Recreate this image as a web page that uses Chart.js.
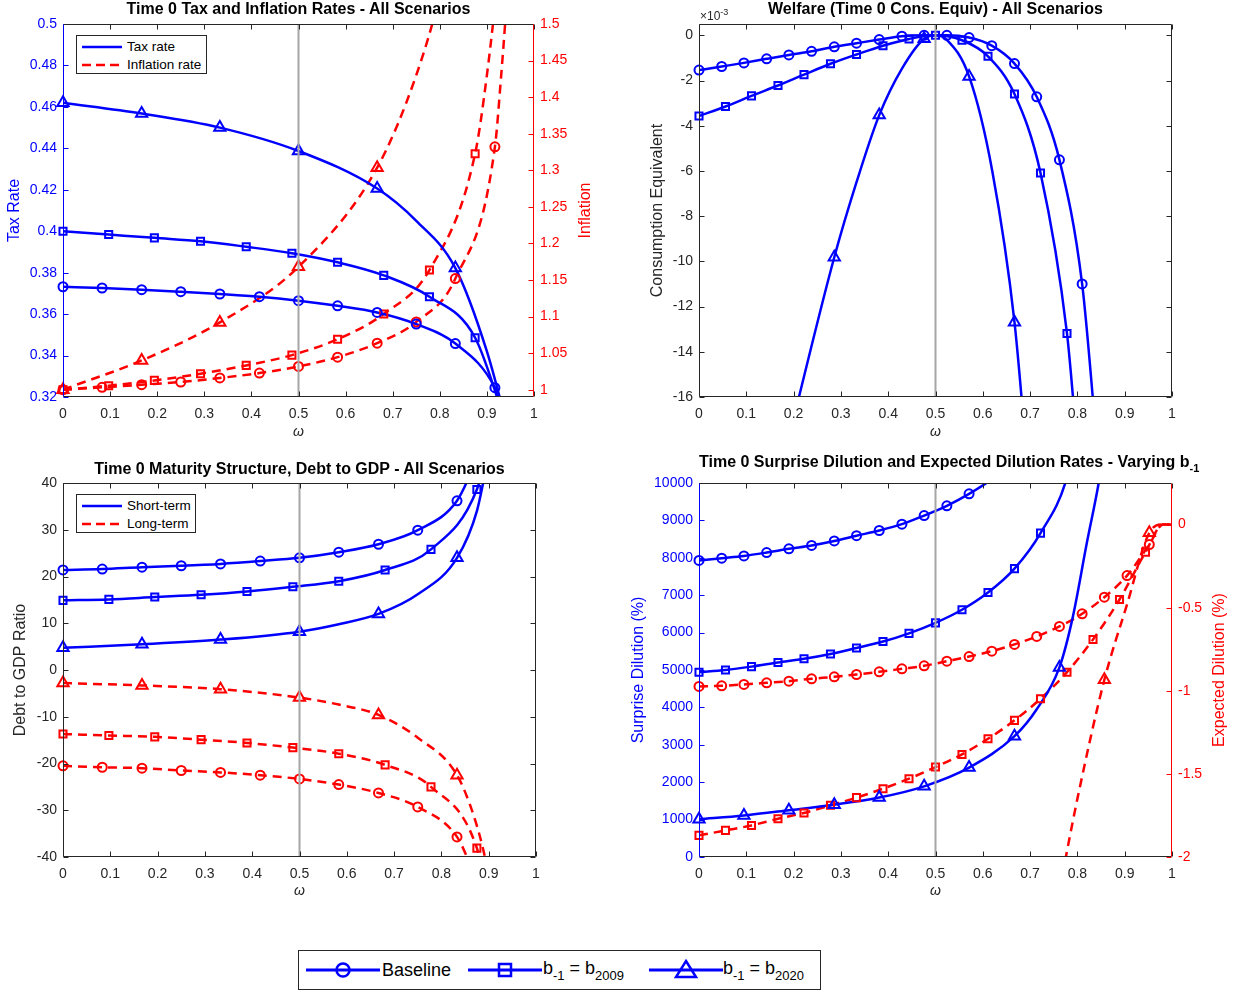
<!DOCTYPE html>
<html lang="en">
<head>
<meta charset="UTF-8">
<title>Time 0 Scenarios - Tax, Welfare, Maturity, Dilution</title>
<script src="https://cdn.jsdelivr.net/npm/chart.js"></script>
<style>
  body { margin: 0; background: #fff; font-family: "Liberation Sans", Arial, Helvetica, sans-serif; }
  #page { position: relative; width: 1240px; height: 990px; overflow: hidden; }
  canvas { position: absolute; }
  .title { position: absolute; font-weight: bold; font-size: 16px; line-height: 18px; color: #000; text-align: center; white-space: nowrap; }
  .title sub { font-size: 11px; vertical-align: -5px; }
  .lg { position: absolute; border: 1px solid #262626; background: #fff; }
  .lg svg, .lg span { position: absolute; }
  .lg span { font-size: 13.5px; line-height: 16px; color: #000; white-space: nowrap; }
  #bottomLegend span { font-size: 18px; line-height: 22px; }
  #bottomLegend sub { font-size: 13px; vertical-align: -6px; }
  .exp { position: absolute; font-size: 12px; color: #262626; }
  .exp sup { font-size: 9px; vertical-align: 5px; }
</style>
</head>
<body>
<div id="page">
  <canvas id="c1" width="620" height="450" style="left:0;top:0"></canvas>
  <canvas id="c2" width="620" height="450" style="left:620px;top:0"></canvas>
  <canvas id="c3" width="620" height="450" style="left:0;top:450px"></canvas>
  <canvas id="c4" width="620" height="450" style="left:620px;top:450px"></canvas>

  <div class="title" style="left:63px;top:0;width:471px">Time 0 Tax and Inflation Rates - All Scenarios</div>
  <div class="title" style="left:699px;top:0;width:473px">Welfare (Time 0 Cons. Equiv) - All Scenarios</div>
  <div class="title" style="left:63px;top:460px;width:473px">Time 0 Maturity Structure, Debt to GDP - All Scenarios</div>
  <div class="title" style="left:699px;top:453px;width:473px">Time 0 Surprise Dilution and Expected Dilution Rates - Varying b<sub>-1</sub></div>

  <div class="exp" style="left:700px;top:7px">×10<sup>-3</sup></div>

  <div class="lg" style="left:76px;top:35px;width:129px;height:37px">
    <svg style="left:4px;top:5px" width="42" height="12"><line x1="1" y1="6" x2="41" y2="6" stroke="#0000ff" stroke-width="2.5"/></svg>
    <span style="left:50px;top:3px">Tax rate</span>
    <svg style="left:4px;top:23px" width="42" height="12"><line x1="1" y1="6" x2="41" y2="6" stroke="#ff0000" stroke-width="2.5" stroke-dasharray="9 5"/></svg>
    <span style="left:50px;top:21px">Inflation rate</span>
  </div>

  <div class="lg" style="left:76px;top:494px;width:118px;height:37px">
    <svg style="left:4px;top:5px" width="42" height="12"><line x1="1" y1="6" x2="41" y2="6" stroke="#0000ff" stroke-width="2.5"/></svg>
    <span style="left:50px;top:3px">Short-term</span>
    <svg style="left:4px;top:23px" width="42" height="12"><line x1="1" y1="6" x2="41" y2="6" stroke="#ff0000" stroke-width="2.5" stroke-dasharray="9 5"/></svg>
    <span style="left:50px;top:21px">Long-term</span>
  </div>

  <div class="lg" id="bottomLegend" style="left:298px;top:950px;width:521px;height:38px">
    <svg style="left:7px;top:7px" width="74" height="24">
      <line x1="0" y1="12" x2="74" y2="12" stroke="#0000ff" stroke-width="3"/>
      <circle cx="37" cy="12" r="6.5" fill="none" stroke="#0000ff" stroke-width="2.5"/>
    </svg>
    <span style="left:83px;top:8px">Baseline</span>
    <svg style="left:169px;top:7px" width="74" height="24">
      <line x1="0" y1="12" x2="74" y2="12" stroke="#0000ff" stroke-width="3"/>
      <rect x="31" y="6" width="12" height="12" fill="none" stroke="#0000ff" stroke-width="2.5"/>
    </svg>
    <span style="left:244px;top:6px">b<sub>-1</sub> = b<sub>2009</sub></span>
    <svg style="left:350px;top:7px" width="74" height="24">
      <line x1="0" y1="12" x2="74" y2="12" stroke="#0000ff" stroke-width="3"/>
      <polygon points="37,3 47,19 27,19" fill="none" stroke="#0000ff" stroke-width="2.5"/>
    </svg>
    <span style="left:424px;top:6px">b<sub>-1</sub> = b<sub>2020</sub></span>
  </div>
</div>

<script>
  // ---- data ----
  const omegaTicks = [0, 0.1, 0.2, 0.3, 0.4, 0.5, 0.6, 0.7, 0.8, 0.9, 1];
  const refOmega = 0.5;

  // marker positions (omega) for each scenario
  const xBase12 = [0, 0.083, 0.167, 0.25, 0.333, 0.417, 0.5, 0.583, 0.667, 0.75, 0.833, 0.917];
  const x2009a = [0, 0.097, 0.194, 0.292, 0.389, 0.486, 0.583, 0.681, 0.778, 0.875];
  const x2020a = [0, 0.167, 0.333, 0.5, 0.667, 0.833];
  const xBase21 = [0, 0.048, 0.095, 0.143, 0.19, 0.238, 0.286, 0.333, 0.381, 0.429, 0.476,
                   0.524, 0.571, 0.619, 0.667, 0.714, 0.762, 0.81, 0.857, 0.905, 0.952];
  const x2009b = [0, 0.056, 0.111, 0.167, 0.222, 0.278, 0.333, 0.389, 0.444, 0.5,
                  0.556, 0.611, 0.667, 0.722, 0.778, 0.833, 0.889, 0.944];
  const x2020b = [0, 0.095, 0.19, 0.286, 0.381, 0.476, 0.571, 0.667, 0.762, 0.857, 0.952];

  // panel 1: tax rate (left) and inflation (right)
  const taxTicks = [0.32, 0.34, 0.36, 0.38, 0.4, 0.42, 0.44, 0.46, 0.48, 0.5];
  const infTicks = [1, 1.05, 1.1, 1.15, 1.2, 1.25, 1.3, 1.35, 1.4, 1.45, 1.5];
  const taxBase = [0.3732, 0.3726, 0.3718, 0.3708, 0.3697, 0.3684, 0.3665, 0.364, 0.3608, 0.3552, 0.3458, 0.3245];
  const taxBaseEndX = [0.94], taxBaseEndY = [0.31];
  const tax2009 = [0.400, 0.3984, 0.3968, 0.3952, 0.3925, 0.3894, 0.385, 0.3787, 0.3684, 0.3486];
  const tax2009EndX = [0.95], tax2009EndY = [0.30];
  const tax2020 = [0.462, 0.4568, 0.450, 0.4387, 0.4206, 0.3822];
  const tax2020EndX = [0.75, 0.9, 0.95], tax2020EndY = [0.405, 0.342, 0.30];
  const infBase = [1.0, 1.0032, 1.0068, 1.0105, 1.016, 1.0227, 1.0318, 1.0445, 1.0636, 1.0927, 1.152, 1.332];
  const infBaseEndX = [0.93, 0.95], infBaseEndY = [1.427, 1.6];
  const inf2009 = [1.0, 1.0055, 1.0127, 1.0218, 1.0332, 1.0473, 1.069, 1.1036, 1.1636, 1.3227];
  const inf2009EndX = [0.9, 0.93], inf2009EndY = [1.43, 1.6];
  const inf2020 = [1.0, 1.04, 1.092, 1.168, 1.3036];
  const inf2020EndX = [0.75, 0.8, 0.85], inf2020EndY = [1.43, 1.54, 1.7];

  // panel 2: welfare, units of 1e-3
  const welTicks = [-16, -14, -12, -10, -8, -6, -4, -2, 0];
  const welBase = [-1.54, -1.38, -1.22, -1.04, -0.87, -0.71, -0.51, -0.35, -0.19, -0.04, 0,
                   0, -0.1, -0.46, -1.25, -2.72, -5.51, -11.0];
  const welBaseEndX = [0.84], welBaseEndY = [-17.8];
  const wel2009 = [-3.57, -3.15, -2.68, -2.22, -1.74, -1.26, -0.85, -0.46, -0.16, 0,
                   -0.22, -0.93, -2.6, -6.09, -13.19];
  const wel2009EndX = [0.8], wel2009EndY = [-18.3];
  const wel2020X = [0.286, 0.381, 0.476, 0.571, 0.667];
  const wel2020 = [-9.82, -3.53, -0.15, -1.82, -12.69];
  const wel2020MidX = [0.19, 0.333, 0.43, 0.5, 0.524, 0.62, 0.7];
  const wel2020MidY = [-17.8, -6.5, -1.44, 0, -0.2, -6.0, -20.5];

  // panel 3: debt to GDP, short-term (blue) and long-term (red)
  const debtTicks = [-40, -30, -20, -10, 0, 10, 20, 30, 40];
  const stBase = [21.4, 21.6, 22.0, 22.3, 22.7, 23.3, 24.0, 25.2, 26.9, 29.9, 36.2];
  const stBaseEndX = [0.875], stBaseEndY = [45];
  const st2009 = [14.9, 15.1, 15.6, 16.1, 16.8, 17.8, 19.0, 21.4, 25.8, 38.6];
  const st2009EndX = [0.9], st2009EndY = [48];
  const st2020 = [4.75, 5.5, 6.5, 8.2, 12.0, 24.0];
  const st2020MidX = [0.583, 0.75, 0.875, 0.9], st2020MidY = [9.8, 16.2, 34, 46];
  const ltBase = [-20.5, -20.8, -21.0, -21.5, -21.9, -22.5, -23.3, -24.5, -26.3, -29.3, -35.7];
  const ltBaseEndX = [0.865], ltBaseEndY = [-42.5];
  const lt2009 = [-13.7, -14.0, -14.3, -14.9, -15.6, -16.6, -17.9, -20.3, -25.0, -38.1];
  const lt2009EndX = [0.89], lt2009EndY = [-45];
  const lt2020 = [-2.8, -3.3, -4.1, -5.9, -9.6, -22.5];
  const lt2020MidX = [0.583, 0.75, 0.871, 0.892, 0.905], lt2020MidY = [-7.4, -14.5, -32, -40, -47];

  // panel 4: surprise dilution (left, %) and expected dilution (right, %)
  const sdTicks = [0, 1000, 2000, 3000, 4000, 5000, 6000, 7000, 8000, 9000, 10000];
  const edTicks = [-2, -1.5, -1, -0.5, 0];
  const sdBase = [7930, 7990, 8050, 8140, 8240, 8330, 8450, 8590, 8730, 8900, 9130, 9390, 9710];
  const sdBaseEndX = [0.619, 0.667], sdBaseEndY = [10100, 10600];
  const sd2009 = [4940, 5000, 5090, 5200, 5300, 5430, 5590, 5760, 5980, 6260, 6610, 7070, 7710, 8660];
  const sd2009EndX = [0.778, 0.8], sd2009EndY = [10150, 11500];
  const sd2020 = [1010, 1110, 1250, 1400, 1590, 1890, 2390, 3230, 5070];
  const sd2020MidX = [0.714, 0.79, 0.82, 0.845, 0.87], sd2020MidY = [3950, 6400, 8400, 10000, 12000];
  const edBase = [-0.974, -0.970, -0.962, -0.952, -0.942, -0.928, -0.916, -0.902, -0.886, -0.868, -0.850,
                  -0.822, -0.794, -0.762, -0.721, -0.673, -0.613, -0.537, -0.437, -0.307, -0.12];
  const edEndX = [0.981, 1], edEndY = [0, 0];
  const ed2009 = [-1.870, -1.840, -1.810, -1.770, -1.735, -1.689, -1.643, -1.589, -1.529, -1.459,
                  -1.383, -1.289, -1.178, -1.048, -0.888, -0.691, -0.451, -0.166];
  const ed2020X = [0.857, 0.952];
  const ed2020 = [-0.934, -0.05];
  const ed2020MidX = [0.762, 0.8, 0.905], ed2020MidY = [-2.2, -1.65, -0.48];

  // ---- helpers ----
  const BLUE = '#0000ff', RED = '#ff0000', GRAY = '#262626', REF = '#a6a6a6';

  Chart.defaults.font.family = '"Liberation Sans", Arial, Helvetica, sans-serif';
  Chart.defaults.font.size = 14;
  Chart.defaults.color = GRAY;
  Chart.defaults.animation = false;

  function pts(xs, ys) {
    return ys.map((y, i) => ({x: xs[i], y}));
  }
  function curve(xs, ys, ex, ey) {
    return pts(xs, ys).concat(pts(ex || [], ey || [])).sort((a, b) => a.x - b.x);
  }
  function lineSet(data, color, dashed, axis) {
    return {
      data, yAxisID: axis, borderColor: color, borderWidth: 2.5,
      borderDash: dashed ? [9, 6] : [], pointRadius: 0,
      cubicInterpolationMode: 'monotone', order: 2
    };
  }
  function markSet(data, color, shape, axis) {
    const r = shape === 'triangle' ? 6.5 : shape === 'rect' ? 5 : 4.5;
    return {
      data, yAxisID: axis, showLine: false, pointStyle: shape, pointRadius: r,
      pointBorderWidth: 2, pointBorderColor: color, pointBackgroundColor: 'rgba(0,0,0,0)',
      borderColor: color, clip: false, order: 1
    };
  }
  // one scenario: smooth line through all points, hollow markers at marker points
  function scenario(mx, my, ex, ey, color, dashed, shape, axis) {
    return [lineSet(curve(mx, my, ex, ey), color, dashed, axis), markSet(pts(mx, my), color, shape, axis)];
  }
  function refLine(lo, hi) {
    return {
      data: [{x: refOmega, y: lo}, {x: refOmega, y: hi}], yAxisID: 'y',
      borderColor: REF, borderWidth: 2, pointRadius: 0, order: 0
    };
  }

  function axisY(pos, a) {
    return {
      type: 'linear', position: pos, min: a.min, max: a.max,
      grid: {display: false, drawTicks: false}, border: {display: false},
      afterBuildTicks: s => { s.ticks = a.ticks.map(v => ({value: v})); },
      ticks: {padding: 6, color: a.color, autoSkip: false, callback: v => String(+v.toFixed(3))},
      title: {display: pos === 'left', text: a.title, color: a.color, font: {size: 16}, padding: {top: a.titlePad, bottom: 0}},
      afterFit: s => { s.width = a.width; }
    };
  }

  // frame with inward tick marks, MATLAB style
  const boxPlugin = {
    id: 'box',
    afterDatasetsDraw(chart, args, o) {
      const {ctx, chartArea: a, scales} = chart;
      const L = 5;
      const seg = (x1, y1, x2, y2, c) => {
        ctx.strokeStyle = c; ctx.beginPath(); ctx.moveTo(x1, y1); ctx.lineTo(x2, y2); ctx.stroke();
      };
      ctx.save();
      ctx.lineWidth = 1;
      const l = a.left + 0.5, r = a.right - 0.5, t = a.top + 0.5, b = a.bottom - 0.5;
      scales.x.ticks.forEach(tk => {
        const px = Math.round(scales.x.getPixelForValue(tk.value)) + 0.5;
        seg(px, b, px, b - L, GRAY);
        seg(px, t, px, t + L, GRAY);
      });
      scales.y.ticks.forEach(tk => {
        const py = Math.round(scales.y.getPixelForValue(tk.value)) + 0.5;
        seg(l, py, l + L, py, o.leftColor);
        if (!scales.y1) seg(r, py, r - L, py, o.leftColor);
      });
      if (scales.y1) {
        scales.y1.ticks.forEach(tk => {
          const py = Math.round(scales.y1.getPixelForValue(tk.value)) + 0.5;
          seg(r, py, r - L, py, o.rightColor);
        });
      }
      seg(l, t, r, t, GRAY);
      seg(l, b, r, b, GRAY);
      seg(l, t, l, b, o.leftColor);
      seg(r, t, r, b, o.rightColor);
      if (o.rightTitle) {
        ctx.translate(o.rightTitle.x, (a.top + a.bottom) / 2);
        ctx.rotate(-Math.PI / 2);
        ctx.fillStyle = o.rightColor;
        ctx.font = '16px "Liberation Sans", Arial, sans-serif';
        ctx.textAlign = 'center';
        ctx.textBaseline = 'middle';
        ctx.fillText(o.rightTitle.text, 0, 0);
      }
      ctx.restore();
    }
  };

  function panel(id, o) {
    const scales = {
      x: {
        type: 'linear', min: 0, max: 1,
        grid: {display: false, drawTicks: false}, border: {display: false},
        afterBuildTicks: s => { s.ticks = omegaTicks.map(v => ({value: v})); },
        ticks: {padding: 9, color: GRAY, autoSkip: false, maxRotation: 0, callback: v => String(+v.toFixed(2))},
        title: {display: true, text: 'ω', color: GRAY, font: {size: 14, style: 'italic'}, padding: {top: 0, bottom: o.xTitlePad}},
        afterFit: s => { s.height = o.xHeight; }
      },
      y: axisY('left', o.left)
    };
    if (o.right) scales.y1 = axisY('right', o.right);
    return new Chart(document.getElementById(id), {
      type: 'line',
      data: {datasets: o.datasets},
      options: {
        responsive: false,
        layout: {padding: {top: o.top, right: o.padRight || 0, left: 0, bottom: 0}},
        scales,
        plugins: {
          legend: {display: false},
          tooltip: {enabled: false},
          box: {
            leftColor: o.left.color,
            rightColor: o.right ? o.right.color : GRAY,
            rightTitle: o.rightTitle
          }
        }
      },
      plugins: [boxPlugin]
    });
  }

  // ---- panel 1 ----
  panel('c1', {
    top: 24, xHeight: 53, xTitlePad: 9,
    left: {min: 0.32, max: 0.5, ticks: taxTicks, color: BLUE, title: 'Tax Rate', titlePad: 5, width: 63},
    right: {min: 0.99, max: 1.5, ticks: infTicks, color: RED, title: 'Inflation', titlePad: 0, width: 86},
    rightTitle: {text: 'Inflation', x: 586},
    datasets: [
      refLine(0.32, 0.5),
      ...scenario(xBase12, taxBase, taxBaseEndX, taxBaseEndY, BLUE, false, 'circle', 'y'),
      ...scenario(x2009a, tax2009, tax2009EndX, tax2009EndY, BLUE, false, 'rect', 'y'),
      ...scenario(x2020a, tax2020, tax2020EndX, tax2020EndY, BLUE, false, 'triangle', 'y'),
      ...scenario(xBase12, infBase, infBaseEndX, infBaseEndY, RED, true, 'circle', 'y1'),
      ...scenario(x2009a, inf2009, inf2009EndX, inf2009EndY, RED, true, 'rect', 'y1'),
      ...scenario(x2020a.slice(0, 5), inf2020, inf2020EndX, inf2020EndY, RED, true, 'triangle', 'y1')
    ]
  });

  // ---- panel 2 ----
  panel('c2', {
    top: 24, xHeight: 53, xTitlePad: 9, padRight: 68,
    left: {min: -16, max: 0.5, ticks: welTicks, color: GRAY, title: 'Consumption Equivalent', titlePad: 28, width: 79},
    datasets: [
      refLine(-16, 0.5),
      ...scenario(xBase21.slice(0, 18), welBase, welBaseEndX, welBaseEndY, BLUE, false, 'circle', 'y'),
      ...scenario(x2009b.slice(0, 15), wel2009, wel2009EndX, wel2009EndY, BLUE, false, 'rect', 'y'),
      ...scenario(wel2020X, wel2020, wel2020MidX, wel2020MidY, BLUE, false, 'triangle', 'y')
    ]
  });

  // ---- panel 3 ----
  panel('c3', {
    top: 33, xHeight: 43, xTitlePad: 0, padRight: 84,
    left: {min: -40, max: 40, ticks: debtTicks, color: GRAY, title: 'Debt to GDP Ratio', titlePad: 11, width: 63},
    datasets: [
      refLine(-40, 40),
      ...scenario(xBase12.slice(0, 11), stBase, stBaseEndX, stBaseEndY, BLUE, false, 'circle', 'y'),
      ...scenario(x2009a, st2009, st2009EndX, st2009EndY, BLUE, false, 'rect', 'y'),
      ...scenario(x2020a, st2020, st2020MidX, st2020MidY, BLUE, false, 'triangle', 'y'),
      ...scenario(xBase12.slice(0, 11), ltBase, ltBaseEndX, ltBaseEndY, RED, true, 'circle', 'y'),
      ...scenario(x2009a, lt2009, lt2009EndX, lt2009EndY, RED, true, 'rect', 'y'),
      ...scenario(x2020a, lt2020, lt2020MidX, lt2020MidY, RED, true, 'triangle', 'y')
    ]
  });

  // ---- panel 4 ----
  panel('c4', {
    top: 33, xHeight: 43, xTitlePad: 0,
    left: {min: 0, max: 10000, ticks: sdTicks, color: BLUE, title: 'Surprise Dilution (%)', titlePad: 9, width: 79},
    right: {min: -2, max: 0.25, ticks: edTicks, color: RED, title: 'Expected Dilution (%)', titlePad: 0, width: 68},
    rightTitle: {text: 'Expected Dilution (%)', x: 600},
    datasets: [
      refLine(0, 10000),
      ...scenario(xBase21.slice(0, 13), sdBase, sdBaseEndX, sdBaseEndY, BLUE, false, 'circle', 'y'),
      ...scenario(x2009b.slice(0, 14), sd2009, sd2009EndX, sd2009EndY, BLUE, false, 'rect', 'y'),
      ...scenario(x2020b.slice(0, 9), sd2020, sd2020MidX, sd2020MidY, BLUE, false, 'triangle', 'y'),
      ...scenario(xBase21, edBase, edEndX, edEndY, RED, true, 'circle', 'y1'),
      ...scenario(x2009b, ed2009, edEndX, edEndY, RED, true, 'rect', 'y1'),
      ...scenario(ed2020X, ed2020, ed2020MidX.concat(edEndX), ed2020MidY.concat(edEndY), RED, true, 'triangle', 'y1')
    ]
  });
</script>
</body>
</html>
